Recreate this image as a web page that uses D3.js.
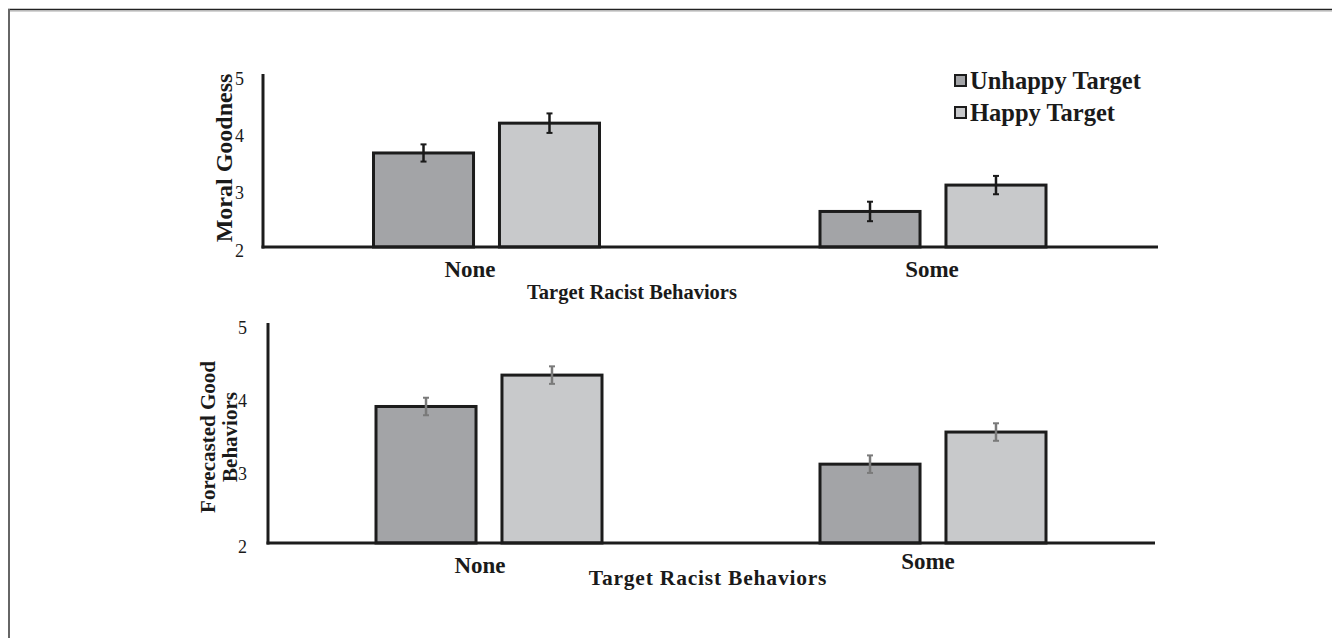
<!DOCTYPE html>
<html>
<head>
<meta charset="utf-8">
<script src="https://cdn.jsdelivr.net/npm/d3@7/dist/d3.min.js"></script>
<style>
  html, body { margin: 0; padding: 0; background: #fff; }
  svg { display: block; }
  text { font-family: "Liberation Serif", "DejaVu Serif", serif; fill: #1a1a1a; }
</style>
</head>
<body>
<svg id="fig" width="1332" height="638"></svg>
<script>
// Conditions and series
const categories = ["None", "Some"];
const series = ["Unhappy Target", "Happy Target"];
const seriesColors = ["#a3a4a7", "#c8c9cb"];
const yTicks = [2, 3, 4, 5];

// Moral goodness means and error half-widths
const moralMeans = [[3.64, 4.16], [2.62, 3.08]];
const moralErr = [[0.15, 0.17], [0.17, 0.16]];

// Forecasted good behaviors means and error half-widths
const forecastMeans = [[3.87, 4.30], [3.08, 3.52]];
const forecastErr = [[0.12, 0.12], [0.12, 0.12]];

const svg = d3.select("#fig");

// page frame
svg.append("line").attr("x1", 8).attr("x2", 1332).attr("y1", 9.5).attr("y2", 9.5)
  .attr("stroke", "#222").attr("stroke-width", 1.5);
svg.append("line").attr("x1", 8).attr("x2", 1332).attr("y1", 11).attr("y2", 11)
  .attr("stroke", "#aaa").attr("stroke-width", 1);
svg.append("line").attr("x1", 9).attr("x2", 9).attr("y1", 9).attr("y2", 638)
  .attr("stroke", "#666").attr("stroke-width", 2);

function panel(opts) {
  const g = svg.append("g");
  const y = d3.scaleLinear().domain([2, 5]).range([opts.yBottom, opts.yTop]);
  const x = d3.scalePoint().domain(categories).range(opts.centers);
  const sub = d3.scaleBand().domain(series).range([-113, 113]).paddingInner(0.206);

  // bars
  categories.forEach((c, ci) => {
    series.forEach((s, si) => {
      const v = opts.means[ci][si];
      const e = opts.err[ci][si];
      const x0 = x(c) + sub(s);
      g.append("rect")
        .attr("x", x0).attr("y", y(v))
        .attr("width", sub.bandwidth()).attr("height", y(2) - y(v))
        .attr("fill", seriesColors[si])
        .attr("stroke", "#1c1c1c").attr("stroke-width", 3);
      const cx = x0 + sub.bandwidth() / 2;
      const eb = g.append("g").attr("stroke", opts.errColor);
      eb.append("line").attr("x1", cx).attr("x2", cx)
        .attr("y1", y(v + e)).attr("y2", y(v - e)).attr("stroke-width", 2.5);
      [v + e, v - e].forEach(t => eb.append("line")
        .attr("x1", cx - 3).attr("x2", cx + 3).attr("y1", y(t)).attr("y2", y(t))
        .attr("stroke-width", 2));
    });
  });

  // y axis
  const ax = g.append("g").attr("transform", `translate(${opts.xLeft},0)`)
    .call(d3.axisLeft(y).tickValues(yTicks).tickSize(0).tickPadding(opts.tickPad).tickFormat(d3.format("d")));
  ax.select(".domain").remove();
  ax.attr("font-family", null);
  ax.selectAll("text")
    .style("font-family", "'Liberation Serif', serif")
    .style("font-size", "18px").attr("fill", "#333")
    .attr("dy", "0.5em");
  g.append("line").attr("x1", opts.xLeft).attr("x2", opts.xLeft)
    .attr("y1", opts.yTop - 1).attr("y2", opts.yBottom + 1.5)
    .attr("stroke", "#1c1c1c").attr("stroke-width", 3);
  // x baseline
  g.append("line").attr("x1", opts.xLeft - 1.5).attr("x2", opts.xRight)
    .attr("y1", opts.yBottom).attr("y2", opts.yBottom)
    .attr("stroke", "#1c1c1c").attr("stroke-width", 3);

  // category labels
  categories.forEach((c, ci) => {
    g.append("text").attr("x", opts.catX[ci]).attr("y", opts.catY[ci])
      .attr("text-anchor", "middle").attr("font-weight", "bold")
      .style("font-size", "23px").text(c);
  });
  // x title
  g.append("text").attr("x", opts.titleX).attr("y", opts.titleY)
    .attr("text-anchor", "middle").attr("font-weight", "bold")
    .style("font-size", opts.titleSize).style("letter-spacing", opts.titleSpacing)
    .text("Target Racist Behaviors");
  return { g, x, y };
}

const moralPanel = panel({
  yTop: 75, yBottom: 247, xLeft: 263, xRight: 1158, tickPad: 19,
  centers: [486.5, 933], means: moralMeans, err: moralErr, errColor: "#1a1a1a",
  catX: [470, 932], catY: [277, 277], titleX: 632, titleY: 299,
  titleSize: "20.5px", titleSpacing: "0px"
});
moralPanel.g.append("text")
  .attr("transform", "translate(232,158) rotate(-90)")
  .attr("text-anchor", "middle").attr("font-weight", "bold")
  .style("font-size", "24px").text("Moral Goodness");

// legend
series.forEach((s, i) => {
  const ly = 81 + i * 32;
  moralPanel.g.append("rect").attr("x", 955).attr("y", ly - 6).attr("width", 11).attr("height", 11)
    .attr("fill", seriesColors[i]).attr("stroke", "#1c1c1c").attr("stroke-width", 2);
  moralPanel.g.append("text").attr("x", 970).attr("y", ly + 8).attr("font-weight", "bold")
    .style("font-size", "24.5px").text(s);
});

const forecastPanel = panel({
  yTop: 324, yBottom: 543, xLeft: 268, xRight: 1155, tickPad: 21,
  centers: [489, 933], means: forecastMeans, err: forecastErr, errColor: "#7a7a7a",
  catX: [480, 928], catY: [573, 569], titleX: 708, titleY: 585,
  titleSize: "21.5px", titleSpacing: "0.8px"
});
const yl = forecastPanel.g.append("text")
  .attr("transform", "translate(215,437) rotate(-90)")
  .attr("text-anchor", "middle").attr("font-weight", "bold")
  .style("font-size", "21px");
yl.append("tspan").attr("x", 0).attr("dy", 0).text("Forecasted Good");
yl.append("tspan").attr("x", 0).attr("dy", 22).text("Behaviors");
</script>
</body>
</html>
